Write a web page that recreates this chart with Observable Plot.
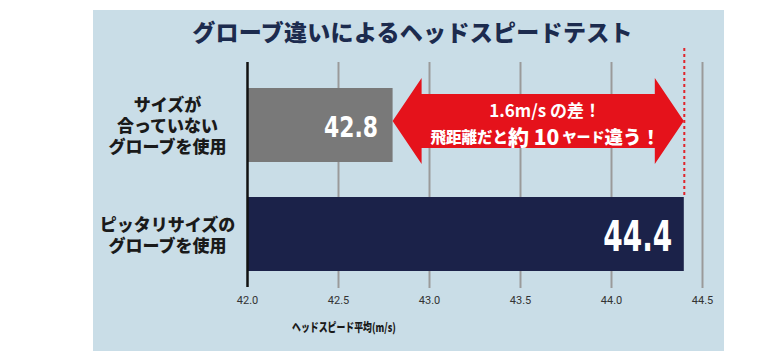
<!DOCTYPE html>
<html><head><meta charset="utf-8">
<script src="https://cdn.jsdelivr.net/npm/d3@7"></script>
<script src="https://cdn.jsdelivr.net/npm/@observablehq/plot@0.6"></script>
<style>
body{margin:0;background:#fff;width:780px;height:362px;overflow:hidden;font-family:"Noto Sans CJK JP",sans-serif;}
#panel{position:absolute;left:93px;top:10px;width:631px;height:341px;background:#c9dde7;}
#title{position:absolute;left:4px;top:10px;width:631px;text-align:center;font-size:23px;line-height:23px;font-weight:900;color:#1c2b4e;letter-spacing:0.3px;}
#xtitle{position:absolute;left:199px;top:309px;font-size:12px;line-height:16px;font-weight:900;color:#1a1a1a;white-space:nowrap;transform:scaleX(0.74);transform-origin:left center;}
#chart{position:absolute;left:0;top:0;}
</style></head>
<body>
<div id="panel"><div id="chart"></div><div id="title"></div><div id="xtitle"></div></div>
<script>
const titleText = "グローブ違いによるヘッドスピードテスト";
const xAxisTitle = "ヘッドスピード平均(m/s)";
const categories = ["サイズが\n合っていない\nグローブを使用", "ピッタリサイズの\nグローブを使用"];
const speeds = [42.8, 44.4];
const xTicks = [42.0, 42.5, 43.0, 43.5, 44.0, 44.5];
const calloutLine1 = "1.6m/s の差！";
const calloutLine2Parts = ["飛距離だと", "約 10", " ヤード", "違う！"];

document.getElementById("title").textContent = titleText;
document.getElementById("xtitle").textContent = xAxisTitle;

const rows = categories.map((c, i) => ({cat: c, value: speeds[i]}));
const axisMin = xTicks[0];
const barColors = ["#797979", "#1b2249"];

function arrowMark(index, scales) {
  const x = scales.x, y = scales.y;
  const bw = y.bandwidth ? y.bandwidth() : 75;
  const cy = y(categories[0]) + bw / 2 - 4;
  const x0 = x(speeds[0]), x1 = x(speeds[1]);
  const h = 29, b = 27, a = 43;
  const pts = [[x0, cy], [x0 + h, cy - a], [x0 + h, cy - b], [x1 - h, cy - b], [x1 - h, cy - a], [x1, cy],
               [x1 - h, cy + a], [x1 - h, cy + b], [x0 + h, cy + b], [x0 + h, cy + a]];
  const g = d3.create("svg:g");
  g.append("polygon").attr("points", pts.map(p => p.join(",")).join(" ")).attr("fill", "#e5121b");
  const cx = (x0 + x1) / 2 + 7;
  g.append("text").attr("x", cx).attr("y", cy - 12).attr("text-anchor", "middle").attr("dominant-baseline", "central")
    .attr("fill", "#fff").attr("font-weight", 700).attr("font-size", 17)
    .attr("font-family", "'Noto Sans CJK JP', sans-serif").text(calloutLine1);
  const sizes = [15.5, 21, 14, 18.5];
  const t2 = g.append("text").attr("x", cx).attr("y", cy + 15).attr("text-anchor", "middle").attr("dominant-baseline", "central")
    .attr("fill", "#fff").attr("font-weight", 900).attr("font-family", "'Noto Sans CJK JP', sans-serif");
  calloutLine2Parts.forEach((p, i) => t2.append("tspan").attr("font-size", sizes[i]).text(p));
  return g.node();
}

const valueFont = "'DejaVu Sans Condensed', 'DejaVu Sans', sans-serif";
const chart = Plot.plot({
  width: 631,
  height: 341,
  marginLeft: 154,
  marginRight: 22,
  marginTop: 66,
  marginBottom: 68,
  style: {background: "transparent", color: "#333", fontFamily: "Roboto, sans-serif", fontSize: "11px"},
  x: {domain: [axisMin, xTicks[xTicks.length - 1]], ticks: xTicks, tickFormat: d3.format(".1f"), tickSize: 0, tickPadding: 13, label: null},
  y: {domain: categories, axis: null, paddingInner: 0.318, paddingOuter: 0.1},
  marks: [
    Plot.ruleX(xTicks.slice(1), {stroke: "#9a9a9a", strokeWidth: 2, insetTop: -14, insetBottom: -5}),
    Plot.barX(rows, {x1: () => axisMin, x2: "value", y: "cat", fill: (d, i) => barColors[i]}),
    Plot.ruleX([axisMin], {stroke: "#111", strokeWidth: 2.5, insetTop: -14, insetBottom: -4}),
    Plot.ruleX([speeds[1]], {stroke: "#e0242b", strokeWidth: 2, strokeDasharray: "3,3", insetTop: -28, insetBottom: 86}),
    arrowMark,
    Plot.text(rows.slice(0, 1), {x: "value", y: "cat", text: d => d.value.toFixed(1), textAnchor: "end",
      dx: -15, dy: 2, fill: "#fff", fontWeight: 700, fontFamily: valueFont, fontSize: 29}),
    Plot.text(rows.slice(1), {x: "value", y: "cat", text: d => d.value.toFixed(1), textAnchor: "end",
      dx: -12, dy: 3, fill: "#fff", fontWeight: 700, fontFamily: valueFont, fontSize: 43}),
    Plot.text(rows, {x: axisMin, y: "cat", text: "cat", dx: -80, textAnchor: "middle", lineHeight: 1.24,
      fill: "#1a1a1a", fontWeight: 900, fontSize: 17, fontFamily: "'Noto Sans CJK JP', sans-serif"})
  ]
});
// condense the value labels horizontally, as in the reference
const targetWidths = {"42.8": 54, "44.4": 69};
d3.select(chart).selectAll("text").each(function() {
  const t = this.textContent;
  if (targetWidths[t]) d3.select(this).attr("textLength", targetWidths[t]).attr("lengthAdjust", "spacingAndGlyphs");
});
document.getElementById("chart").appendChild(chart);
</script>
</body></html>
